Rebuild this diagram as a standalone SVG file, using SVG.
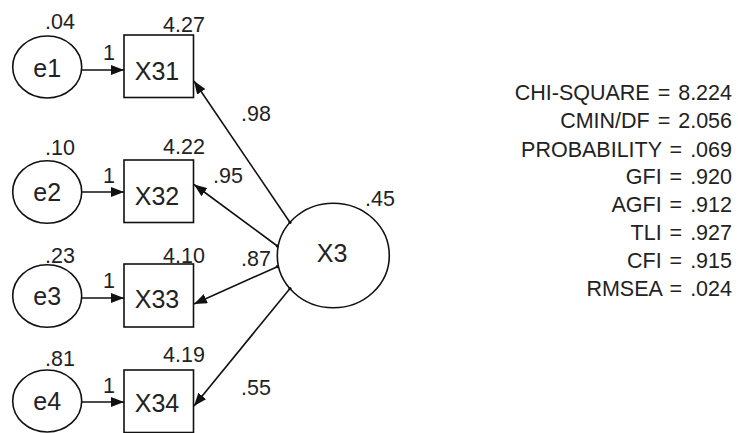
<svg xmlns="http://www.w3.org/2000/svg" width="738" height="433" viewBox="0 0 738 433">
  <style>
    .shape { fill: #ffffff; stroke: #111111; stroke-width: 1.6; }
    .edge { fill: none; stroke: #111111; stroke-width: 1.6; }
    .dot { fill: #111111; }
    .big { font-family: "Liberation Sans", Arial, sans-serif; font-size: 25px; fill: #222222; }
    .small { font-family: "Liberation Sans", Arial, sans-serif; font-size: 21.5px; fill: #222222; }
    .stat { word-spacing: 2px; }
    .mid { text-anchor: middle; }
    .end { text-anchor: end; }
  </style>
  <defs>
    <marker id="arrow" viewBox="0 0 13 10" refX="13" refY="5" markerWidth="13" markerHeight="10" markerUnits="userSpaceOnUse" orient="auto">
      <path d="M0,0 L13,5 L0,10 z" fill="#111111"/>
    </marker>
  </defs>
  <rect width="738" height="433" fill="#ffffff"/>

  <!-- error terms -->
  <g id="e1">
    <ellipse class="shape" cx="47.2" cy="67" rx="34.5" ry="31"/>
    <text class="big mid" x="47.2" y="77">e1</text>
    <text class="small" x="45" y="29">.04</text>
  </g>
  <g id="e2">
    <ellipse class="shape" cx="47.2" cy="192" rx="34.5" ry="31.3"/>
    <text class="big mid" x="47.2" y="201">e2</text>
    <text class="small" x="45" y="155">.10</text>
  </g>
  <g id="e3">
    <ellipse class="shape" cx="47.2" cy="296" rx="34.5" ry="31.3"/>
    <text class="big mid" x="47.2" y="305">e3</text>
    <text class="small" x="45" y="263">.23</text>
  </g>
  <g id="e4">
    <ellipse class="shape" cx="47.2" cy="401" rx="34.5" ry="31"/>
    <text class="big mid" x="47.2" y="410">e4</text>
    <text class="small" x="45" y="366">.81</text>
  </g>

  <!-- observed indicators -->
  <g id="X31">
    <rect class="shape" x="124" y="35" width="69.5" height="62.5"/>
    <text class="big mid" x="157" y="80">X31</text>
    <text class="small" x="163" y="32">4.27</text>
  </g>
  <g id="X32">
    <rect class="shape" x="124" y="160" width="69.5" height="62.5"/>
    <text class="big mid" x="157" y="205">X32</text>
    <text class="small" x="163" y="154">4.22</text>
  </g>
  <g id="X33">
    <rect class="shape" x="124" y="264" width="69.5" height="63"/>
    <text class="big mid" x="157" y="308">X33</text>
    <text class="small" x="163" y="263">4.10</text>
  </g>
  <g id="X34">
    <rect class="shape" x="124" y="370" width="69.5" height="62.5"/>
    <text class="big mid" x="157" y="412">X34</text>
    <text class="small" x="163" y="362">4.19</text>
  </g>

  <!-- latent factor -->
  <g id="X3">
    <ellipse class="shape" cx="333.3" cy="255.5" rx="56" ry="52.3"/>
    <text class="big mid" x="332" y="262">X3</text>
    <text class="small" x="365" y="206">.45</text>
  </g>

  <!-- paths -->
  <g id="connectors">
    <line class="edge" x1="81.7" y1="70" x2="124" y2="70" marker-end="url(#arrow)"/>
    <line class="edge" x1="81.7" y1="192" x2="124" y2="192" marker-end="url(#arrow)"/>
    <line class="edge" x1="81.7" y1="298" x2="124" y2="298" marker-end="url(#arrow)"/>
    <line class="edge" x1="81.7" y1="402" x2="124" y2="402" marker-end="url(#arrow)"/>

    <line class="edge" x1="290" y1="222.5" x2="194" y2="81" marker-end="url(#arrow)"/>
    <line class="edge" x1="277.3" y1="246" x2="194" y2="184.5" marker-end="url(#arrow)"/>
    <line class="edge" x1="277.3" y1="266.7" x2="194" y2="304" marker-end="url(#arrow)"/>
    <line class="edge" x1="290" y1="288.5" x2="194" y2="406" marker-end="url(#arrow)"/>

    <circle class="dot" cx="290" cy="222.5" r="1.6"/>
    <circle class="dot" cx="277.3" cy="246" r="1.6"/>
    <circle class="dot" cx="277.3" cy="266.7" r="1.6"/>
    <circle class="dot" cx="290" cy="288.5" r="1.6"/>

    <text class="small" x="103" y="60">1</text>
    <text class="small" x="103" y="183">1</text>
    <text class="small" x="103" y="288">1</text>
    <text class="small" x="103" y="393">1</text>

    <text class="small" x="241" y="121">.98</text>
    <text class="small" x="213" y="183">.95</text>
    <text class="small" x="241" y="266">.87</text>
    <text class="small" x="241" y="395">.55</text>
  </g>

  <!-- fit statistics -->
  <g id="fit">
    <text class="small stat end" x="732" y="100">CHI-SQUARE = 8.224</text>
    <text class="small stat end" x="732" y="128">CMIN/DF = 2.056</text>
    <text class="small stat end" x="732" y="156.5">PROBABILITY = .069</text>
    <text class="small stat end" x="732" y="184">GFI = .920</text>
    <text class="small stat end" x="732" y="212">AGFI = .912</text>
    <text class="small stat end" x="732" y="240">TLI = .927</text>
    <text class="small stat end" x="732" y="268">CFI = .915</text>
    <text class="small stat end" x="732" y="296">RMSEA = .024</text>
  </g>
</svg>
